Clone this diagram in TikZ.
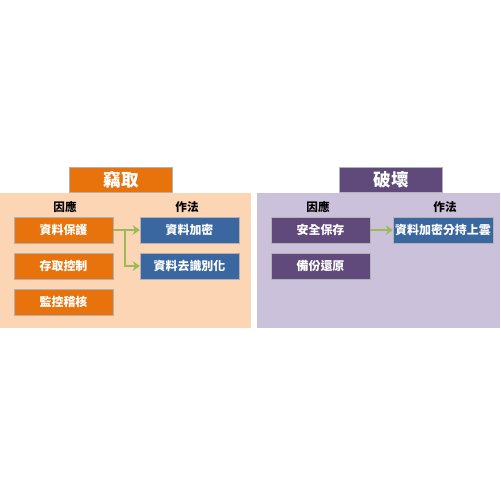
\documentclass[tikz,border=0pt]{standalone}
\usepackage{fontspec}
\newfontfamily\cjk{Noto Sans CJK TC}
\usetikzlibrary{arrows.meta,calc}
\definecolor{orng}{HTML}{E8730C}
\definecolor{peach}{HTML}{FCD5B4}
\definecolor{purp}{HTML}{604A7B}
\definecolor{lavnd}{HTML}{CCC1DA}
\definecolor{blu}{HTML}{3A679F}
\definecolor{grn}{HTML}{9BBB59}
\tikzset{
  box/.style = {align=center, inner sep=0pt, text centered, font=\cjk\bfseries\fontsize{6.8}{8}\selectfont, white,
    minimum width=1.98cm, minimum height=0.52cm, draw=black!30, line width=0.3pt},
  cause_o/.style = {box, fill=orng},
  cause_p/.style = {box, fill=purp},
  method/.style = {box, fill=blu},
  title_o/.style = {box, fill=orng, minimum width=2.06cm, minimum height=0.5cm, font=\cjk\bfseries\fontsize{10}{12}\selectfont},
  title_p/.style = {title_o, fill=purp},
  head/.style = {font=\cjk\bfseries\fontsize{6.6}{8}\selectfont, inner sep=0pt},
  arr/.style = {grn, line width=1.5pt, -{Stealth[length=4pt,width=5.5pt]}}
}
\begin{document}
\begin{tikzpicture}[x=0.02cm,y=-0.02cm]
\useasboundingbox (0,0) rectangle (500,500);
% panels
\fill[peach] (0,193) rectangle (251,328);
\fill[lavnd] (257,193) rectangle (500,328);
% steal
\node [title_o] (steal) at (121,180) {竊取};
\node [head] (causeL) at (65,207) {因應};
\node [head] (methodL) at (187,207) {作法};
\node [cause_o] (protect) at (63.5,230) {資料保護};
\node [cause_o] (access) at (63.5,266) {存取控制};
\node [cause_o] (audit) at (63.5,302) {監控稽核};
\node [method] (encrypt) at (189.5,230) {資料加密};
\node [method] (deident) at (189.5,266) {資料去識別化};
\coordinate (split) at (125,230);
\draw [arr] (protect.east) -- (encrypt.west);
\draw [arr] (split) |- (deident.west);
% destroy
\node [title_p] (destroy) at (391,180) {破壞};
\node [head] (causeR) at (318,207) {因應};
\node [head] (methodR) at (445,207) {作法};
\node [cause_p] (safekeep) at (320.5,230) {安全保存};
\node [cause_p] (backup) at (320.5,266) {備份還原};
\node [method, minimum width=2cm] (cloud) at (443,230) {資料加密分持上雲};
\draw [arr] (safekeep.east) -- (cloud.west);
\end{tikzpicture}
\end{document}
